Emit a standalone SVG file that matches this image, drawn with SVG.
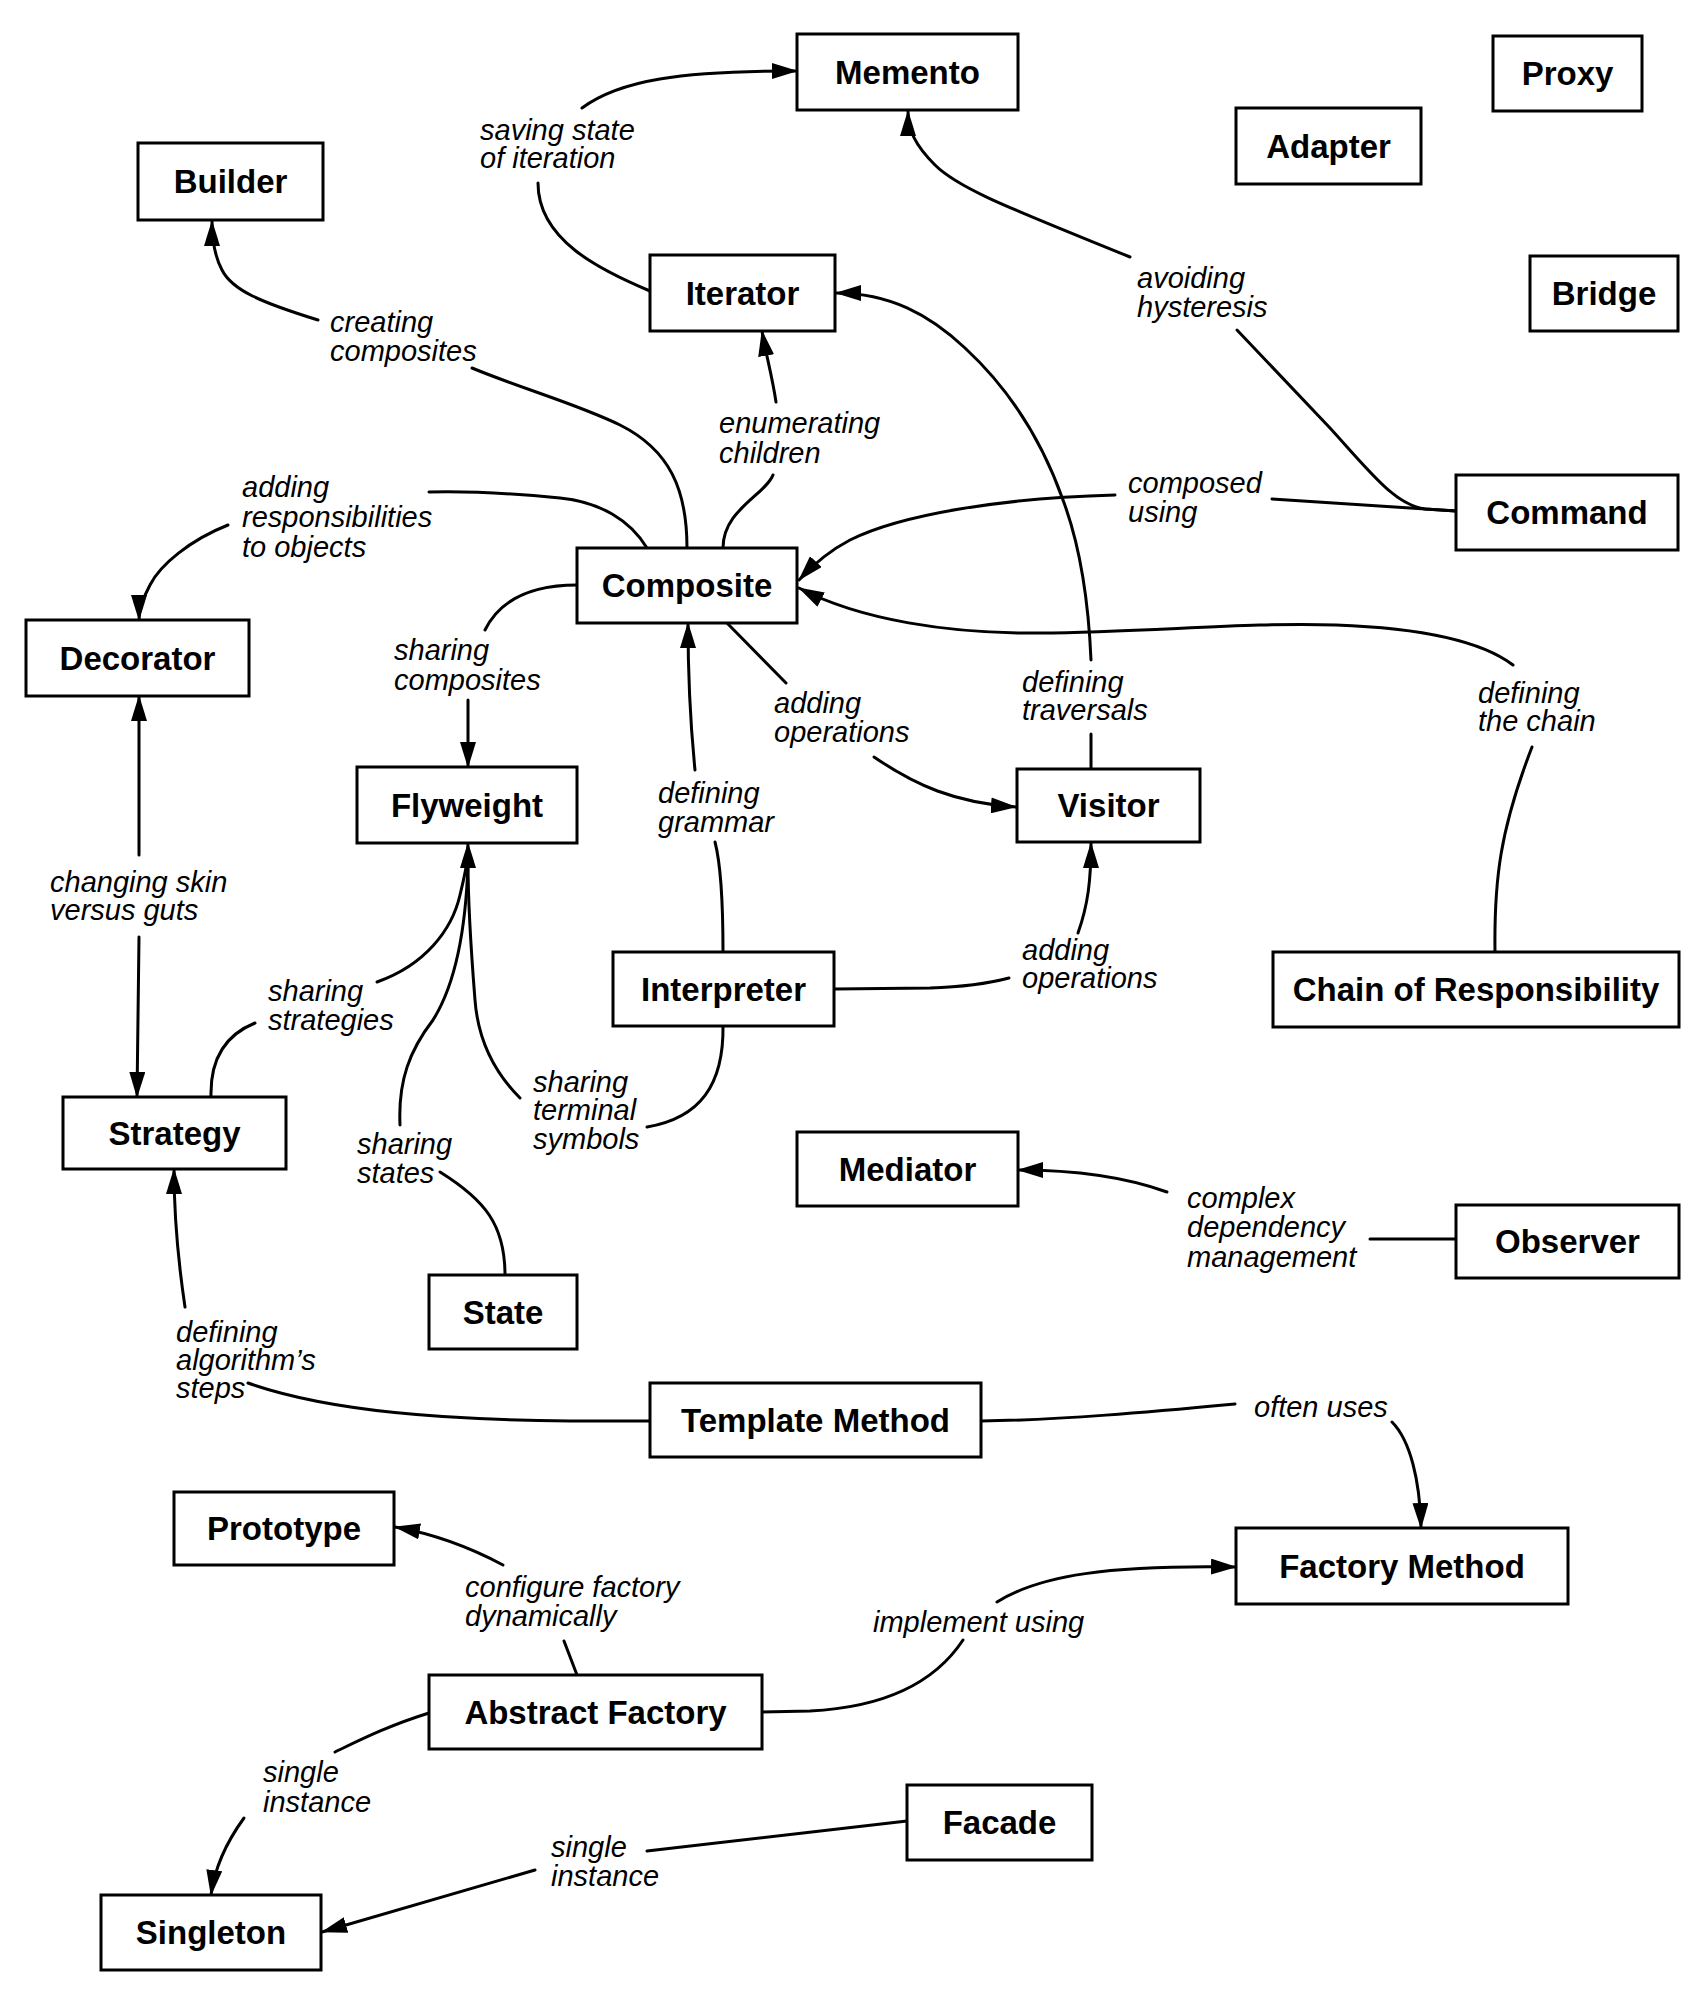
<svg xmlns="http://www.w3.org/2000/svg" width="1708" height="2000" viewBox="0 0 1708 2000">
<style>
.node rect{fill:#fff;stroke:#000;stroke-width:3}
.node text{font-family:"Liberation Sans",Arial,Helvetica,sans-serif;font-weight:bold;font-size:33px;text-anchor:middle;fill:#000}
.edge{fill:none;stroke:#000;stroke-width:3;stroke-linecap:round;stroke-linejoin:round}
.arr{marker-end:url(#ah)}
.lbl{font-family:"Liberation Sans",Arial,Helvetica,sans-serif;font-style:italic;font-size:29px;fill:#000}
</style>
<defs>
<marker id="ah" markerUnits="userSpaceOnUse" markerWidth="26" markerHeight="16" refX="25" refY="8" orient="auto" viewBox="0 0 26 16"><path d="M0,0 L26,8 L0,16 z" fill="#000"/></marker>
</defs>
<rect x="0" y="0" width="1708" height="2000" fill="#fff"/>
<g id="connectors">
<!-- Iterator -> Memento : saving state of iteration -->
<path class="edge" d="M650 291 C600 270, 538 240, 538 183"/>
<path class="edge arr" d="M582 108 C620 80, 680 71, 797 71"/>
<text class="lbl"><tspan x="480" y="140">saving state</tspan><tspan x="480" y="168">of iteration</tspan></text>
<!-- Command -> Memento : avoiding hysteresis -->
<path class="edge" d="M1237 330 L1330 428 C1370 472, 1395 505, 1425 509 L1456 511"/>
<path class="edge arr" d="M1130 257 C1020 212, 960 190, 935 165 C915 145, 908 130, 908 111"/>
<text class="lbl"><tspan x="1137" y="288">avoiding</tspan><tspan x="1137" y="317">hysteresis</tspan></text>
<!-- Composite -> Builder : creating composites -->
<path class="edge" d="M687 548 C687 490, 670 450, 620 425 C580 405, 520 388, 472 368"/>
<path class="edge arr" d="M318 320 C260 302, 232 290, 222 270 C214 255, 212 240, 212 221"/>
<text class="lbl"><tspan x="330" y="332">creating</tspan><tspan x="330" y="361">composites</tspan></text>
<!-- Composite -> Iterator : enumerating children -->
<path class="edge" d="M723 548 C723 510, 765 495, 773 475"/>
<path class="edge arr" d="M776 402 C772 375, 766 355, 762 331"/>
<text class="lbl"><tspan x="719" y="433">enumerating</tspan><tspan x="719" y="463">children</tspan></text>
<!-- Visitor -> Iterator : defining traversals -->
<path class="edge" d="M1091 770 L1091 734"/>
<path class="edge arr" d="M1091 660 C1088 590, 1078 540, 1063 500 C1040 435, 1005 385, 965 348 C930 315, 890 293, 836 293"/>
<text class="lbl"><tspan x="1022" y="692">defining</tspan><tspan x="1022" y="720">traversals</tspan></text>
<!-- Command -> Composite : composed using -->
<path class="edge" d="M1272 499 L1456 511"/>
<path class="edge arr" d="M1115 495 C1000 498, 900 515, 850 540 C825 553, 810 568, 799 580"/>
<text class="lbl"><tspan x="1128" y="493">composed</tspan><tspan x="1128" y="522">using</tspan></text>
<!-- Chain of Responsibility -> Composite : defining the chain -->
<path class="edge" d="M1495 952 C1494 880, 1500 830, 1532 747"/>
<path class="edge arr" d="M1513 665 C1480 640, 1420 628, 1336 625 C1250 622, 1150 632, 1040 633 C950 634, 860 620, 799 588"/>
<text class="lbl"><tspan x="1478" y="703">defining</tspan><tspan x="1478" y="731">the chain</tspan></text>
<!-- Composite -> Decorator : adding responsibilities to objects -->
<path class="edge" d="M647 548 C630 520, 600 502, 560 498 C520 494, 470 491, 429 492"/>
<path class="edge arr" d="M228 525 C190 540, 160 565, 150 585 C143 598, 139 608, 139 620"/>
<text class="lbl"><tspan x="242" y="497">adding</tspan><tspan x="242" y="527">responsibilities</tspan><tspan x="242" y="557">to objects</tspan></text>
<!-- Composite -> Flyweight : sharing composites -->
<path class="edge" d="M577 585 C530 585, 500 600, 485 630"/>
<path class="edge arr" d="M468 700 L468 767"/>
<text class="lbl"><tspan x="394" y="660">sharing</tspan><tspan x="394" y="690">composites</tspan></text>
<!-- Composite -> Visitor : adding operations -->
<path class="edge" d="M727 623 L786 683"/>
<path class="edge arr" d="M874 757 C915 785, 955 803, 1016 807"/>
<text class="lbl"><tspan x="774" y="713">adding</tspan><tspan x="774" y="742">operations</tspan></text>
<!-- Interpreter -> Composite : defining grammar -->
<path class="edge" d="M723 952 C723 900, 721 865, 715 842"/>
<path class="edge arr" d="M695 770 C690 720, 688 680, 688 623"/>
<text class="lbl"><tspan x="658" y="803">defining</tspan><tspan x="658" y="832">grammar</tspan></text>
<!-- Interpreter -> Visitor : adding operations -->
<path class="edge" d="M835 989 L930 988 C960 987, 990 983, 1009 978"/>
<path class="edge arr" d="M1078 933 C1088 905, 1091 880, 1091 843"/>
<text class="lbl"><tspan x="1022" y="960">adding</tspan><tspan x="1022" y="988">operations</tspan></text>
<!-- Strategy -> Flyweight : sharing strategies -->
<path class="edge" d="M211 1097 C210 1060, 225 1035, 255 1023"/>
<path class="edge arr" d="M377 982 C425 965, 452 930, 460 895 C466 870, 468 860, 468 843"/>
<text class="lbl"><tspan x="268" y="1001">sharing</tspan><tspan x="268" y="1030">strategies</tspan></text>
<!-- State -> Flyweight : sharing states -->
<path class="edge" d="M505 1275 C505 1225, 485 1200, 440 1172"/>
<path class="edge" d="M400 1125 C398 1080, 410 1050, 433 1020 C455 985, 466 930, 468 862"/>
<text class="lbl"><tspan x="357" y="1154">sharing</tspan><tspan x="357" y="1183">states</tspan></text>
<!-- Interpreter -> Flyweight : sharing terminal symbols -->
<path class="edge" d="M723 1025 C724 1085, 700 1118, 647 1127"/>
<path class="edge" d="M520 1098 C495 1073, 478 1040, 475 1000 C471 950, 468 900, 468 862"/>
<text class="lbl"><tspan x="533" y="1092">sharing</tspan><tspan x="533" y="1120">terminal</tspan><tspan x="533" y="1149">symbols</tspan></text>
<!-- Decorator <-> Strategy : changing skin versus guts -->
<path class="edge arr" d="M139 855 L139 696"/>
<path class="edge arr" d="M139 937 L137 1097"/>
<text class="lbl"><tspan x="50" y="892">changing skin</tspan><tspan x="50" y="920">versus guts</tspan></text>
<!-- Template Method -> Strategy : defining algorithm's steps -->
<path class="edge" d="M650 1421 L570 1421 C450 1420, 330 1412, 248 1383"/>
<path class="edge arr" d="M185 1307 C178 1260, 174 1220, 174 1169"/>
<text class="lbl"><tspan x="176" y="1342">defining</tspan><tspan x="176" y="1370">algorithm’s</tspan><tspan x="176" y="1398">steps</tspan></text>
<!-- Observer -> Mediator : complex dependency management -->
<path class="edge" d="M1456 1239 L1370 1239"/>
<path class="edge arr" d="M1167 1192 C1120 1175, 1070 1170, 1018 1170"/>
<text class="lbl"><tspan x="1187" y="1208">complex</tspan><tspan x="1187" y="1237">dependency</tspan><tspan x="1187" y="1267">management</tspan></text>
<!-- Template Method -> Factory Method : often uses -->
<path class="edge" d="M981 1421 C1060 1420, 1150 1412, 1235 1404"/>
<path class="edge arr" d="M1392 1422 C1410 1440, 1420 1480, 1421 1528"/>
<text class="lbl"><tspan x="1254" y="1417">often uses</tspan></text>
<!-- Abstract Factory -> Prototype : configure factory dynamically -->
<path class="edge" d="M577 1675 L564 1641"/>
<path class="edge arr" d="M503 1565 C475 1550, 440 1535, 395 1527"/>
<text class="lbl"><tspan x="465" y="1597">configure factory</tspan><tspan x="465" y="1626">dynamically</tspan></text>
<!-- Abstract Factory -> Factory Method : implement using -->
<path class="edge" d="M762 1712 L810 1711 C870 1708, 930 1690, 963 1640"/>
<path class="edge arr" d="M997 1602 C1040 1575, 1110 1565, 1236 1567"/>
<text class="lbl"><tspan x="873" y="1632">implement using</tspan></text>
<!-- Abstract Factory -> Singleton : single instance -->
<path class="edge" d="M429 1713 C390 1725, 360 1740, 335 1752"/>
<path class="edge arr" d="M244 1818 C228 1840, 215 1865, 211 1895"/>
<text class="lbl"><tspan x="263" y="1782">single</tspan><tspan x="263" y="1812">instance</tspan></text>
<!-- Facade -> Singleton : single instance -->
<path class="edge" d="M907 1821 L647 1851"/>
<path class="edge arr" d="M535 1870 L322 1932"/>
<text class="lbl"><tspan x="551" y="1857">single</tspan><tspan x="551" y="1886">instance</tspan></text>
</g>
<g id="node-memento" class="node"><rect x="797" y="34" width="221" height="76"/><text x="907.5" y="83.5">Memento</text></g>
<g id="node-proxy" class="node"><rect x="1493" y="36" width="149" height="75"/><text x="1567.5" y="85">Proxy</text></g>
<g id="node-adapter" class="node"><rect x="1236" y="108" width="185" height="76"/><text x="1328.5" y="157.5">Adapter</text></g>
<g id="node-builder" class="node"><rect x="138" y="143" width="185" height="77"/><text x="230.5" y="193">Builder</text></g>
<g id="node-iterator" class="node"><rect x="650" y="255" width="185" height="76"/><text x="742.5" y="304.5">Iterator</text></g>
<g id="node-bridge" class="node"><rect x="1530" y="256" width="148" height="75"/><text x="1604" y="305">Bridge</text></g>
<g id="node-command" class="node"><rect x="1456" y="475" width="222" height="75"/><text x="1567" y="524">Command</text></g>
<g id="node-composite" class="node"><rect x="577" y="548" width="220" height="75"/><text x="687" y="597">Composite</text></g>
<g id="node-decorator" class="node"><rect x="26" y="620" width="223" height="76"/><text x="137.5" y="669.5">Decorator</text></g>
<g id="node-flyweight" class="node"><rect x="357" y="767" width="220" height="76"/><text x="467" y="816.5">Flyweight</text></g>
<g id="node-visitor" class="node"><rect x="1017" y="769" width="183" height="73"/><text x="1108.5" y="817">Visitor</text></g>
<g id="node-interpreter" class="node"><rect x="613" y="952" width="221" height="74"/><text x="723.5" y="1000.5">Interpreter</text></g>
<g id="node-chain" class="node"><rect x="1273" y="952" width="406" height="75"/><text x="1476" y="1001">Chain of Responsibility</text></g>
<g id="node-strategy" class="node"><rect x="63" y="1097" width="223" height="72"/><text x="174.5" y="1144.5">Strategy</text></g>
<g id="node-mediator" class="node"><rect x="797" y="1132" width="221" height="74"/><text x="907.5" y="1180.5">Mediator</text></g>
<g id="node-observer" class="node"><rect x="1456" y="1205" width="223" height="73"/><text x="1567.5" y="1253">Observer</text></g>
<g id="node-state" class="node"><rect x="429" y="1275" width="148" height="74"/><text x="503" y="1323.5">State</text></g>
<g id="node-template-method" class="node"><rect x="650" y="1383" width="331" height="74"/><text x="815.5" y="1431.5">Template Method</text></g>
<g id="node-prototype" class="node"><rect x="174" y="1492" width="220" height="73"/><text x="284" y="1540">Prototype</text></g>
<g id="node-factory-method" class="node"><rect x="1236" y="1528" width="332" height="76"/><text x="1402" y="1577.5">Factory Method</text></g>
<g id="node-abstract-factory" class="node"><rect x="429" y="1675" width="333" height="74"/><text x="595.5" y="1723.5">Abstract Factory</text></g>
<g id="node-facade" class="node"><rect x="907" y="1785" width="185" height="75"/><text x="999.5" y="1834">Facade</text></g>
<g id="node-singleton" class="node"><rect x="101" y="1895" width="220" height="75"/><text x="211" y="1944">Singleton</text></g>
</svg>
